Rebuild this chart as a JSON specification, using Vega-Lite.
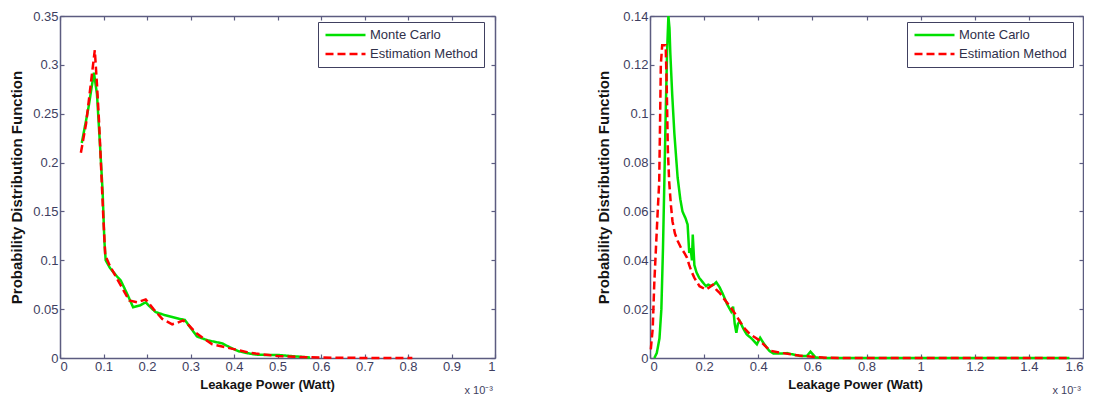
{
  "$schema": "https://vega.github.io/schema/vega-lite/v6.json",
  "background": "white",
  "padding": {"left": 9, "top": 10, "right": 0, "bottom": 0},
  "spacing": 100,
  "config": {
    "view": {"stroke": null},
    "font": "Liberation Sans",
    "axis": {
      "grid": false,
      "domainColor": "#5c5c80",
      "domainWidth": 1.5,
      "tickColor": "#5c5c80",
      "tickWidth": 1.2,
      "tickSize": -4,
      "labelColor": "#3e3e60",
      "labelFont": "Liberation Sans",
      "labelFontSize": 13,
      "labelPadding": 6,
      "titleFont": "Liberation Sans",
      "titleFontSize": 15,
      "titleFontWeight": "bold",
      "titleColor": "#141414"
    },
    "legend": {
      "orient": "none",
      "title": null,
      "strokeColor": "#404060",
      "fillColor": "white",
      "padding": 6,
      "labelFont": "Liberation Sans",
      "labelFontSize": 13,
      "labelColor": "#30304a",
      "labelOffset": 3,
      "symbolType": "stroke",
      "symbolSize": 1600,
      "symbolStrokeWidth": 2.5,
      "clipHeight": 14,
      "rowPadding": 5
    }
  },
  "datasets": {
    "left": [
      {"power": 0.05, "pdf": 0.22, "series": "Monte Carlo"},
      {"power": 0.065, "pdf": 0.255, "series": "Monte Carlo"},
      {"power": 0.078, "pdf": 0.292, "series": "Monte Carlo"},
      {"power": 0.085, "pdf": 0.27, "series": "Monte Carlo"},
      {"power": 0.093, "pdf": 0.21, "series": "Monte Carlo"},
      {"power": 0.098, "pdf": 0.17, "series": "Monte Carlo"},
      {"power": 0.102, "pdf": 0.12, "series": "Monte Carlo"},
      {"power": 0.105, "pdf": 0.1, "series": "Monte Carlo"},
      {"power": 0.115, "pdf": 0.092, "series": "Monte Carlo"},
      {"power": 0.13, "pdf": 0.084, "series": "Monte Carlo"},
      {"power": 0.14, "pdf": 0.079, "series": "Monte Carlo"},
      {"power": 0.155, "pdf": 0.065, "series": "Monte Carlo"},
      {"power": 0.168, "pdf": 0.052, "series": "Monte Carlo"},
      {"power": 0.185, "pdf": 0.054, "series": "Monte Carlo"},
      {"power": 0.197, "pdf": 0.057, "series": "Monte Carlo"},
      {"power": 0.21, "pdf": 0.051, "series": "Monte Carlo"},
      {"power": 0.22, "pdf": 0.047, "series": "Monte Carlo"},
      {"power": 0.24, "pdf": 0.044, "series": "Monte Carlo"},
      {"power": 0.258, "pdf": 0.042, "series": "Monte Carlo"},
      {"power": 0.275, "pdf": 0.04, "series": "Monte Carlo"},
      {"power": 0.287, "pdf": 0.039, "series": "Monte Carlo"},
      {"power": 0.3, "pdf": 0.031, "series": "Monte Carlo"},
      {"power": 0.315, "pdf": 0.022, "series": "Monte Carlo"},
      {"power": 0.34, "pdf": 0.018, "series": "Monte Carlo"},
      {"power": 0.373, "pdf": 0.015, "series": "Monte Carlo"},
      {"power": 0.39, "pdf": 0.011, "series": "Monte Carlo"},
      {"power": 0.41, "pdf": 0.007, "series": "Monte Carlo"},
      {"power": 0.43, "pdf": 0.005, "series": "Monte Carlo"},
      {"power": 0.45, "pdf": 0.0035, "series": "Monte Carlo"},
      {"power": 0.48, "pdf": 0.003, "series": "Monte Carlo"},
      {"power": 0.503, "pdf": 0.003, "series": "Monte Carlo"},
      {"power": 0.53, "pdf": 0.002, "series": "Monte Carlo"},
      {"power": 0.56, "pdf": 0.001, "series": "Monte Carlo"},
      {"power": 0.575, "pdf": 0.0005, "series": "Monte Carlo"},
      {"power": 0.048, "pdf": 0.21, "series": "Estimation Method"},
      {"power": 0.06, "pdf": 0.24, "series": "Estimation Method"},
      {"power": 0.072, "pdf": 0.285, "series": "Estimation Method"},
      {"power": 0.08, "pdf": 0.315, "series": "Estimation Method"},
      {"power": 0.085, "pdf": 0.28, "series": "Estimation Method"},
      {"power": 0.09, "pdf": 0.24, "series": "Estimation Method"},
      {"power": 0.095, "pdf": 0.19, "series": "Estimation Method"},
      {"power": 0.1, "pdf": 0.14, "series": "Estimation Method"},
      {"power": 0.104, "pdf": 0.105, "series": "Estimation Method"},
      {"power": 0.115, "pdf": 0.094, "series": "Estimation Method"},
      {"power": 0.13, "pdf": 0.082, "series": "Estimation Method"},
      {"power": 0.145, "pdf": 0.07, "series": "Estimation Method"},
      {"power": 0.159, "pdf": 0.059, "series": "Estimation Method"},
      {"power": 0.178, "pdf": 0.057, "series": "Estimation Method"},
      {"power": 0.197, "pdf": 0.06, "series": "Estimation Method"},
      {"power": 0.215, "pdf": 0.05, "series": "Estimation Method"},
      {"power": 0.235, "pdf": 0.04, "series": "Estimation Method"},
      {"power": 0.258, "pdf": 0.0345, "series": "Estimation Method"},
      {"power": 0.27, "pdf": 0.036, "series": "Estimation Method"},
      {"power": 0.283, "pdf": 0.0385, "series": "Estimation Method"},
      {"power": 0.295, "pdf": 0.034, "series": "Estimation Method"},
      {"power": 0.312, "pdf": 0.026, "series": "Estimation Method"},
      {"power": 0.33, "pdf": 0.02, "series": "Estimation Method"},
      {"power": 0.35, "pdf": 0.014, "series": "Estimation Method"},
      {"power": 0.38, "pdf": 0.011, "series": "Estimation Method"},
      {"power": 0.41, "pdf": 0.008, "series": "Estimation Method"},
      {"power": 0.43, "pdf": 0.006, "series": "Estimation Method"},
      {"power": 0.45, "pdf": 0.0045, "series": "Estimation Method"},
      {"power": 0.48, "pdf": 0.003, "series": "Estimation Method"},
      {"power": 0.5, "pdf": 0.002, "series": "Estimation Method"},
      {"power": 0.55, "pdf": 0.001, "series": "Estimation Method"},
      {"power": 0.6, "pdf": 0.0005, "series": "Estimation Method"},
      {"power": 0.65, "pdf": 0.0002, "series": "Estimation Method"},
      {"power": 0.7, "pdf": 0.0001, "series": "Estimation Method"},
      {"power": 0.75, "pdf": 0, "series": "Estimation Method"},
      {"power": 0.81, "pdf": 0, "series": "Estimation Method"}
    ],
    "right": [
      {"power": 0.016, "pdf": 0, "series": "Monte Carlo"},
      {"power": 0.025, "pdf": 0.002, "series": "Monte Carlo"},
      {"power": 0.035, "pdf": 0.008, "series": "Monte Carlo"},
      {"power": 0.042, "pdf": 0.02, "series": "Monte Carlo"},
      {"power": 0.048, "pdf": 0.045, "series": "Monte Carlo"},
      {"power": 0.053, "pdf": 0.072, "series": "Monte Carlo"},
      {"power": 0.058, "pdf": 0.1, "series": "Monte Carlo"},
      {"power": 0.063, "pdf": 0.125, "series": "Monte Carlo"},
      {"power": 0.068, "pdf": 0.14, "series": "Monte Carlo"},
      {"power": 0.072, "pdf": 0.135, "series": "Monte Carlo"},
      {"power": 0.075, "pdf": 0.125, "series": "Monte Carlo"},
      {"power": 0.082, "pdf": 0.108, "series": "Monte Carlo"},
      {"power": 0.09, "pdf": 0.092, "series": "Monte Carlo"},
      {"power": 0.102, "pdf": 0.074, "series": "Monte Carlo"},
      {"power": 0.112, "pdf": 0.065, "series": "Monte Carlo"},
      {"power": 0.12, "pdf": 0.06, "series": "Monte Carlo"},
      {"power": 0.132, "pdf": 0.057, "series": "Monte Carlo"},
      {"power": 0.139, "pdf": 0.0546, "series": "Monte Carlo"},
      {"power": 0.145, "pdf": 0.043, "series": "Monte Carlo"},
      {"power": 0.15, "pdf": 0.045, "series": "Monte Carlo"},
      {"power": 0.155, "pdf": 0.04, "series": "Monte Carlo"},
      {"power": 0.158, "pdf": 0.0505, "series": "Monte Carlo"},
      {"power": 0.164, "pdf": 0.038, "series": "Monte Carlo"},
      {"power": 0.172, "pdf": 0.035, "series": "Monte Carlo"},
      {"power": 0.182, "pdf": 0.0328, "series": "Monte Carlo"},
      {"power": 0.195, "pdf": 0.031, "series": "Monte Carlo"},
      {"power": 0.207, "pdf": 0.0294, "series": "Monte Carlo"},
      {"power": 0.215, "pdf": 0.03, "series": "Monte Carlo"},
      {"power": 0.226, "pdf": 0.0295, "series": "Monte Carlo"},
      {"power": 0.235, "pdf": 0.03, "series": "Monte Carlo"},
      {"power": 0.245, "pdf": 0.031, "series": "Monte Carlo"},
      {"power": 0.257, "pdf": 0.029, "series": "Monte Carlo"},
      {"power": 0.27, "pdf": 0.026, "series": "Monte Carlo"},
      {"power": 0.285, "pdf": 0.022, "series": "Monte Carlo"},
      {"power": 0.3, "pdf": 0.019, "series": "Monte Carlo"},
      {"power": 0.307, "pdf": 0.021, "series": "Monte Carlo"},
      {"power": 0.313, "pdf": 0.014, "series": "Monte Carlo"},
      {"power": 0.319, "pdf": 0.0103, "series": "Monte Carlo"},
      {"power": 0.325, "pdf": 0.014, "series": "Monte Carlo"},
      {"power": 0.332, "pdf": 0.015, "series": "Monte Carlo"},
      {"power": 0.345, "pdf": 0.012, "series": "Monte Carlo"},
      {"power": 0.357, "pdf": 0.0097, "series": "Monte Carlo"},
      {"power": 0.375, "pdf": 0.008, "series": "Monte Carlo"},
      {"power": 0.395, "pdf": 0.0056, "series": "Monte Carlo"},
      {"power": 0.407, "pdf": 0.0083, "series": "Monte Carlo"},
      {"power": 0.42, "pdf": 0.006, "series": "Monte Carlo"},
      {"power": 0.44, "pdf": 0.003, "series": "Monte Carlo"},
      {"power": 0.456, "pdf": 0.0018, "series": "Monte Carlo"},
      {"power": 0.48, "pdf": 0.0018, "series": "Monte Carlo"},
      {"power": 0.506, "pdf": 0.002, "series": "Monte Carlo"},
      {"power": 0.53, "pdf": 0.0014, "series": "Monte Carlo"},
      {"power": 0.556, "pdf": 0.0008, "series": "Monte Carlo"},
      {"power": 0.58, "pdf": 0.0008, "series": "Monte Carlo"},
      {"power": 0.593, "pdf": 0.0026, "series": "Monte Carlo"},
      {"power": 0.602, "pdf": 0.0015, "series": "Monte Carlo"},
      {"power": 0.612, "pdf": 0.0002, "series": "Monte Carlo"},
      {"power": 0.65, "pdf": 0, "series": "Monte Carlo"},
      {"power": 0.8, "pdf": 0, "series": "Monte Carlo"},
      {"power": 1.0, "pdf": 0, "series": "Monte Carlo"},
      {"power": 1.2, "pdf": 0, "series": "Monte Carlo"},
      {"power": 1.4, "pdf": 0, "series": "Monte Carlo"},
      {"power": 1.55, "pdf": 0, "series": "Monte Carlo"},
      {"power": 0.003, "pdf": 0.0035, "series": "Estimation Method"},
      {"power": 0.01, "pdf": 0.012, "series": "Estimation Method"},
      {"power": 0.016, "pdf": 0.031, "series": "Estimation Method"},
      {"power": 0.022, "pdf": 0.045, "series": "Estimation Method"},
      {"power": 0.028, "pdf": 0.059, "series": "Estimation Method"},
      {"power": 0.034, "pdf": 0.072, "series": "Estimation Method"},
      {"power": 0.037, "pdf": 0.095, "series": "Estimation Method"},
      {"power": 0.04, "pdf": 0.12, "series": "Estimation Method"},
      {"power": 0.045, "pdf": 0.128, "series": "Estimation Method"},
      {"power": 0.058, "pdf": 0.128, "series": "Estimation Method"},
      {"power": 0.062, "pdf": 0.11, "series": "Estimation Method"},
      {"power": 0.066, "pdf": 0.085, "series": "Estimation Method"},
      {"power": 0.071, "pdf": 0.072, "series": "Estimation Method"},
      {"power": 0.077, "pdf": 0.063, "series": "Estimation Method"},
      {"power": 0.083, "pdf": 0.056, "series": "Estimation Method"},
      {"power": 0.092, "pdf": 0.051, "series": "Estimation Method"},
      {"power": 0.102, "pdf": 0.048, "series": "Estimation Method"},
      {"power": 0.115, "pdf": 0.045, "series": "Estimation Method"},
      {"power": 0.127, "pdf": 0.043, "series": "Estimation Method"},
      {"power": 0.137, "pdf": 0.041, "series": "Estimation Method"},
      {"power": 0.145, "pdf": 0.038, "series": "Estimation Method"},
      {"power": 0.155, "pdf": 0.035, "series": "Estimation Method"},
      {"power": 0.164, "pdf": 0.0328, "series": "Estimation Method"},
      {"power": 0.183, "pdf": 0.0294, "series": "Estimation Method"},
      {"power": 0.207, "pdf": 0.028, "series": "Estimation Method"},
      {"power": 0.22, "pdf": 0.029, "series": "Estimation Method"},
      {"power": 0.232, "pdf": 0.03, "series": "Estimation Method"},
      {"power": 0.245, "pdf": 0.028, "series": "Estimation Method"},
      {"power": 0.257, "pdf": 0.0267, "series": "Estimation Method"},
      {"power": 0.275, "pdf": 0.024, "series": "Estimation Method"},
      {"power": 0.295, "pdf": 0.0212, "series": "Estimation Method"},
      {"power": 0.315, "pdf": 0.018, "series": "Estimation Method"},
      {"power": 0.332, "pdf": 0.015, "series": "Estimation Method"},
      {"power": 0.35, "pdf": 0.012, "series": "Estimation Method"},
      {"power": 0.37, "pdf": 0.0097, "series": "Estimation Method"},
      {"power": 0.39, "pdf": 0.0083, "series": "Estimation Method"},
      {"power": 0.407, "pdf": 0.007, "series": "Estimation Method"},
      {"power": 0.425, "pdf": 0.005, "series": "Estimation Method"},
      {"power": 0.444, "pdf": 0.003, "series": "Estimation Method"},
      {"power": 0.48, "pdf": 0.0022, "series": "Estimation Method"},
      {"power": 0.52, "pdf": 0.0015, "series": "Estimation Method"},
      {"power": 0.55, "pdf": 0.001, "series": "Estimation Method"},
      {"power": 0.6, "pdf": 0.0005, "series": "Estimation Method"},
      {"power": 0.65, "pdf": 0.0001, "series": "Estimation Method"},
      {"power": 0.7, "pdf": 0, "series": "Estimation Method"},
      {"power": 0.9, "pdf": 0, "series": "Estimation Method"},
      {"power": 1.1, "pdf": 0, "series": "Estimation Method"},
      {"power": 1.3, "pdf": 0, "series": "Estimation Method"},
      {"power": 1.55, "pdf": 0, "series": "Estimation Method"}
    ],
    "note": [{"power": 1, "pdf": 0, "label": "x 10⁻³"}],
    "note2": [{"power": 1.6, "pdf": 0, "label": "x 10⁻³"}]
  },
  "resolve": {"legend": {"color": "independent", "strokeDash": "independent"}},
  "hconcat": [
    {
      "width": 435,
      "height": 342,
      "layer": [
        {
          "data": {"name": "left"},
          "mark": {"type": "line", "strokeWidth": 2.5},
          "encoding": {
            "x": {"field": "power", "type": "quantitative", "scale": {"domain": [0, 1], "nice": false},
                  "axis": {"orient": "bottom", "values": [0, 0.1, 0.2, 0.3, 0.4, 0.5, 0.6, 0.7, 0.8, 0.9, 1], "format": "~g", "title": "Leakage Power (Watt)", "titlePadding": 5, "titleFontSize": 13, "titleX": 207}},
            "y": {"field": "pdf", "type": "quantitative", "scale": {"domain": [0, 0.35], "nice": false},
                  "axis": {"orient": "left", "values": [0, 0.05, 0.1, 0.15, 0.2, 0.25, 0.3, 0.35], "format": "~g", "title": "Probability Distribution Function", "titlePadding": 8}},
            "color": {"field": "series", "type": "nominal", "scale": {"domain": ["Monte Carlo", "Estimation Method"], "range": ["#00e000", "#ff0000"]},
                      "legend": {"legendX": 258, "legendY": 6}},
            "strokeDash": {"field": "series", "type": "nominal", "scale": {"domain": ["Monte Carlo", "Estimation Method"], "range": [[1, 0], [8, 4]]},
                      "legend": {"legendX": 258, "legendY": 6}}
          }
        },
        {
          "data": {"name": "left"},
          "mark": {"type": "point", "opacity": 0},
          "encoding": {
            "x": {"field": "power", "type": "quantitative", "axis": {"orient": "top", "labels": false, "title": null, "values": [0, 0.1, 0.2, 0.3, 0.4, 0.5, 0.6, 0.7, 0.8, 0.9, 1]}},
            "y": {"field": "pdf", "type": "quantitative", "axis": {"orient": "right", "labels": false, "title": null, "values": [0, 0.05, 0.1, 0.15, 0.2, 0.25, 0.3, 0.35]}}
          }
        },
        {
          "data": {"name": "note"},
          "mark": {"type": "text", "align": "right", "baseline": "middle", "dy": 33, "dx": -2, "fontSize": 11, "color": "#3e3e60"},
          "encoding": {
            "x": {"field": "power", "type": "quantitative", "axis": null},
            "y": {"field": "pdf", "type": "quantitative", "axis": null},
            "text": {"field": "label"}
          }
        }
      ]
    },
    {
      "width": 433,
      "height": 342,
      "layer": [
        {
          "data": {"name": "right"},
          "mark": {"type": "line", "strokeWidth": 2.5},
          "encoding": {
            "x": {"field": "power", "type": "quantitative", "scale": {"domain": [0, 1.6], "nice": false},
                  "axis": {"orient": "bottom", "values": [0, 0.2, 0.4, 0.6, 0.8, 1, 1.2, 1.4, 1.6], "format": "~g", "title": "Leakage Power (Watt)", "titlePadding": 5, "titleFontSize": 13, "titleX": 205}},
            "y": {"field": "pdf", "type": "quantitative", "scale": {"domain": [0, 0.14], "nice": false},
                  "axis": {"orient": "left", "values": [0, 0.02, 0.04, 0.06, 0.08, 0.1, 0.12, 0.14], "format": "~g", "title": "Probability Distribution Function", "titlePadding": 11}},
            "color": {"field": "series", "type": "nominal", "scale": {"domain": ["Monte Carlo", "Estimation Method"], "range": ["#00e000", "#ff0000"]},
                      "legend": {"legendX": 257, "legendY": 6}},
            "strokeDash": {"field": "series", "type": "nominal", "scale": {"domain": ["Monte Carlo", "Estimation Method"], "range": [[1, 0], [8, 4]]},
                      "legend": {"legendX": 257, "legendY": 6}}
          }
        },
        {
          "data": {"name": "right"},
          "mark": {"type": "point", "opacity": 0},
          "encoding": {
            "x": {"field": "power", "type": "quantitative", "axis": {"orient": "top", "labels": false, "title": null, "values": [0, 0.2, 0.4, 0.6, 0.8, 1, 1.2, 1.4, 1.6]}},
            "y": {"field": "pdf", "type": "quantitative", "axis": {"orient": "right", "labels": false, "title": null, "values": [0, 0.02, 0.04, 0.06, 0.08, 0.1, 0.12, 0.14]}}
          }
        },
        {
          "data": {"name": "note2"},
          "mark": {"type": "text", "align": "right", "baseline": "middle", "dy": 33, "dx": -2, "fontSize": 11, "color": "#3e3e60"},
          "encoding": {
            "x": {"field": "power", "type": "quantitative", "axis": null},
            "y": {"field": "pdf", "type": "quantitative", "axis": null},
            "text": {"field": "label"}
          }
        }
      ]
    }
  ]
}
